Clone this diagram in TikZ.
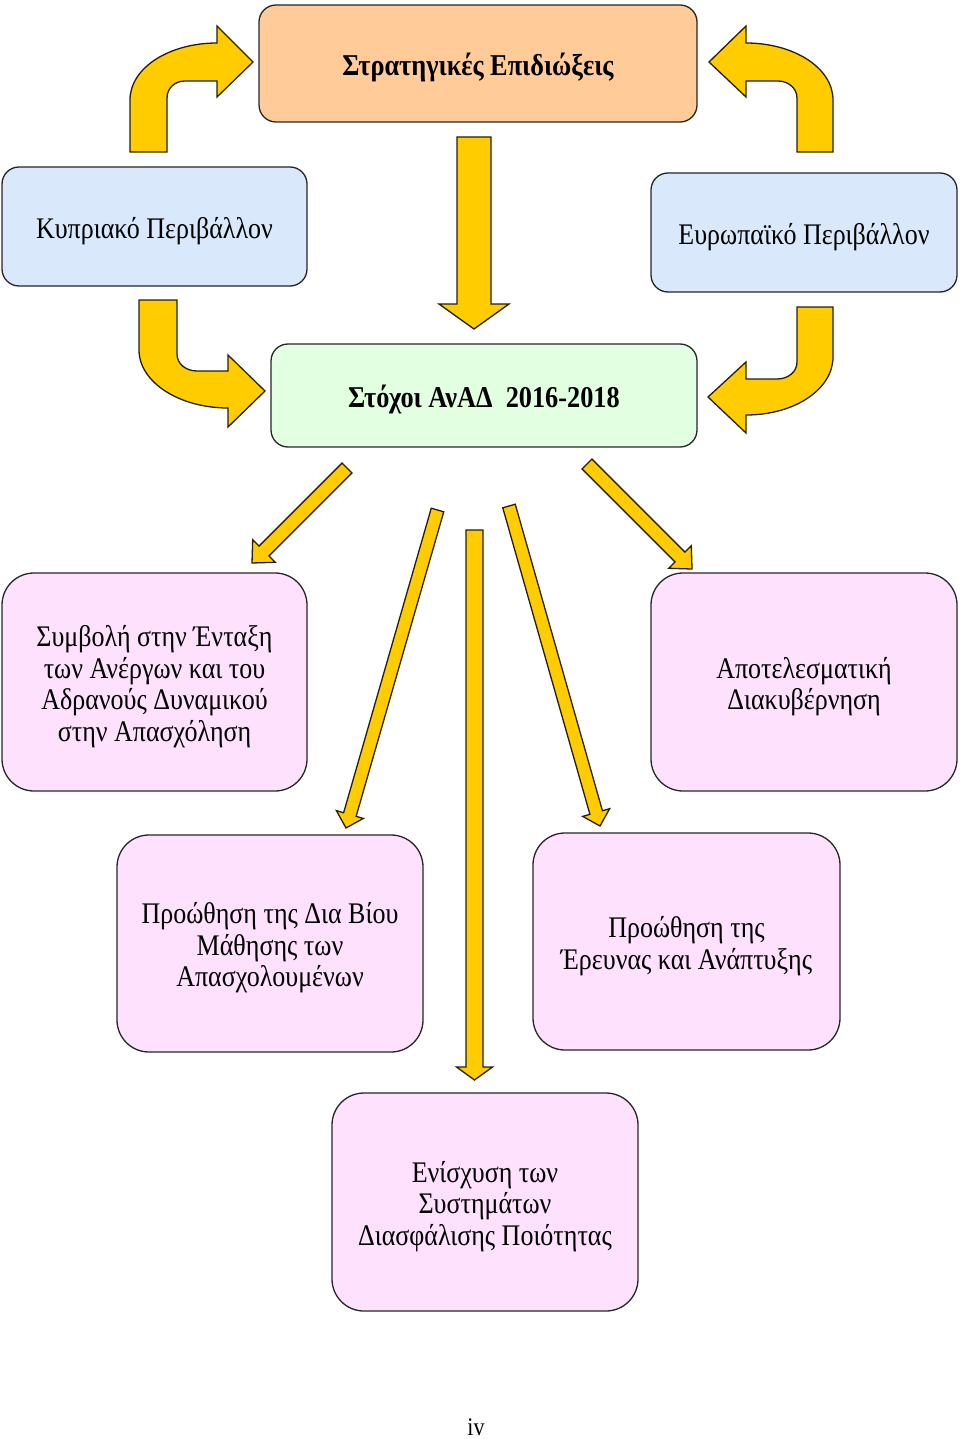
\documentclass[tikz,border=0pt]{standalone}
\usepackage{fontspec}
\usepackage{graphicx}
\setmainfont{Liberation Serif}
\usetikzlibrary{calc}
\definecolor{peach}{HTML}{FFCC99}
\definecolor{lblue}{HTML}{DAE8FC}
\definecolor{lgreen}{HTML}{E2FFE2}
\definecolor{lpink}{HTML}{FDE1FD}
\definecolor{arrY}{HTML}{FFCC00}
\definecolor{arrO}{HTML}{2A1F00}
\newcommand\boxtext[1]{\raisebox{-5.5pt}[\height][\depth]{\scalebox{1}[1.15]{\begin{tabular}{@{}c@{}}#1\end{tabular}}}}
\tikzset{
  box/.style={draw=black!85, line width=1.3pt, align=center, inner sep=0pt,
    font=\fontsize{26}{27.4}\selectfont},
  boldbox/.style={font=\fontsize{26.3}{27.4}\selectfont\bfseries},
  topbox/.style={box, rounded corners=17pt},
  pinkbox/.style={box, rounded corners=32pt, fill=lpink},
  arrowstyle/.style={fill=arrY, draw=arrO, line width=1.3pt, line join=miter},
}
\newcommand\blockarr[5]{%
  \coordinate (hb) at ($(#2)!#5!(#1)$);
  \draw[arrowstyle] ($(#1)!#3!90:(#2)$) -- ($(hb)!#3!90:(#2)$) -- ($(hb)!#4!90:(#2)$)
    -- (#2) -- ($(hb)!#4!-90:(#2)$) -- ($(hb)!#3!-90:(#2)$) -- ($(#1)!#3!-90:(#2)$) -- cycle;
}
\begin{document}
\begin{tikzpicture}[x=1pt,y=-1pt]
\useasboundingbox (0,0) rectangle (960,1439);

% boxes
\node[topbox, boldbox, fill=peach, minimum width=438pt, minimum height=117pt] (strat) at (478,63.5)
  {\boxtext{Στρατηγικές Επιδιώξεις}};
\node[topbox, fill=lblue, minimum width=305pt, minimum height=119pt] (cyp) at (154.5,226.5)
  {\boxtext{Κυπριακό Περιβάλλον}};
\node[topbox, fill=lblue, minimum width=306pt, minimum height=119pt] (eur) at (804,232.5)
  {\boxtext{Ευρωπαϊκό Περιβάλλον}};
\node[topbox, boldbox, fill=lgreen, minimum width=426pt, minimum height=103pt] (goals) at (484,395.5)
  {\boxtext{Στόχοι ΑνΑΔ\ \ 2016-2018}};

\node[pinkbox, minimum width=305pt, minimum height=218pt] (contrib) at (154.5,682)
  {\boxtext{Συμβολή στην Ένταξη\\των Ανέργων και του\\Αδρανούς Δυναμικού\\στην Απασχόληση}};
\node[pinkbox, minimum width=306pt, minimum height=218pt] (gov) at (804,682)
  {\boxtext{Αποτελεσματική\\Διακυβέρνηση}};
\node[pinkbox, minimum width=306pt, minimum height=217pt] (lll) at (270,943.5)
  {\boxtext{Προώθηση της Δια Βίου\\Μάθησης των\\Απασχολουμένων}};
\node[pinkbox, minimum width=307pt, minimum height=217pt] (rnd) at (686.5,941.5)
  {\boxtext{Προώθηση της\\Έρευνας και Ανάπτυξης}};
\node[pinkbox, minimum width=306pt, minimum height=218pt] (qa) at (485,1202)
  {\boxtext{Ενίσχυση των\\Συστημάτων\\Διασφάλισης Ποιότητας}};

\node[font=\fontsize{22}{26}\selectfont, inner sep=0pt] (page) at (476,1427) {\scalebox{1}[1.15]{iv}};

% straight block arrows
\coordinate (a1s) at (474,137);   \coordinate (a1e) at (474,329);
\coordinate (a2s) at (347,468);   \coordinate (a2e) at (252,563);
\coordinate (a3s) at (587,464);   \coordinate (a3e) at (692,569);
\coordinate (a4s) at (437.5,510); \coordinate (a4e) at (346,828);
\coordinate (a5s) at (474.5,530); \coordinate (a5e) at (474.5,1080);
\coordinate (a6s) at (509,506);   \coordinate (a6e) at (600,826);
\blockarr{a1s}{a1e}{17pt}{35pt}{25pt}
\blockarr{a2s}{a2e}{7pt}{16pt}{17pt}
\blockarr{a3s}{a3e}{7pt}{16pt}{17pt}
\blockarr{a4s}{a4e}{6.5pt}{14pt}{14pt}
\blockarr{a5s}{a5e}{8.5pt}{18pt}{13pt}
\blockarr{a6s}{a6e}{6.5pt}{14pt}{14pt}

% curved arrows
% top-left
\draw[arrowstyle] (130,152) -- (130,100) .. controls (130,68) and (169,43) .. (217,43)
  -- (217,26) -- (253,62) -- (217,97) -- (217,81) -- (185,81)
  .. controls (175,81) and (167,88) .. (167,98) -- (167,152) -- cycle;
% top-right
\draw[arrowstyle] (833,152) -- (833,100) .. controls (833,68) and (794,43) .. (746,43)
  -- (746,26) -- (709,62) -- (746,97) -- (746,81) -- (778,81)
  .. controls (788,81) and (797,88) .. (797,98) -- (797,152) -- cycle;
% bottom-left
\draw[arrowstyle] (139,300) -- (139,350) .. controls (139,382) and (179,408) .. (228,408)
  -- (228,427) -- (265,391) -- (228,355) -- (228,371) -- (197,371)
  .. controls (186,371) and (177,364) .. (177,354) -- (177,300) -- cycle;
% bottom-right
\draw[arrowstyle] (833,307) -- (833,357) .. controls (833,389) and (795,415) .. (746,415)
  -- (746,433) -- (708,397) -- (746,362) -- (746,379) -- (777,379)
  .. controls (788,379) and (797,372) .. (797,362) -- (797,307) -- cycle;
\end{tikzpicture}
\end{document}
